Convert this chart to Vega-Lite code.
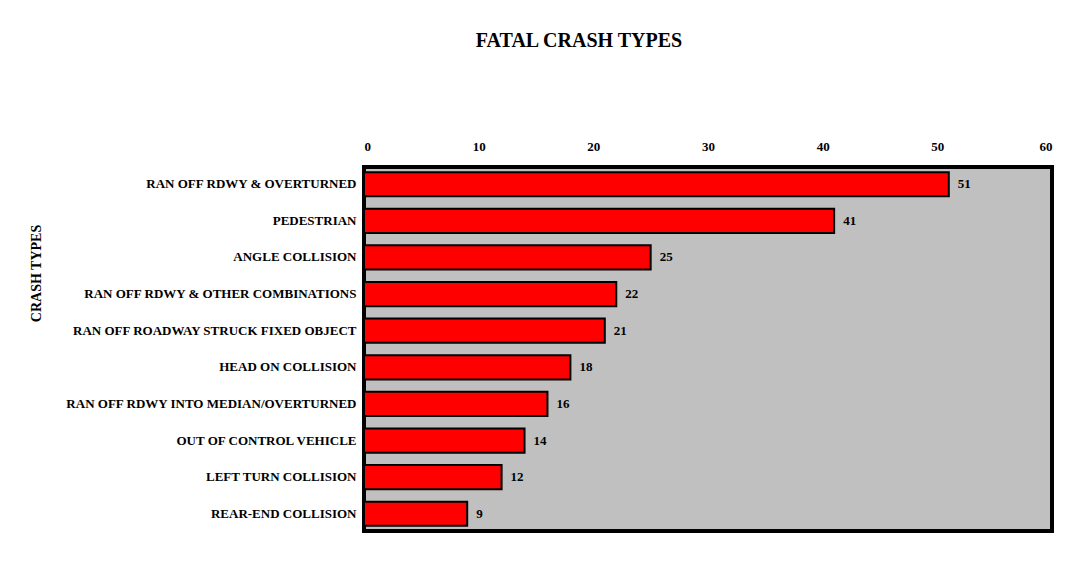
{
  "$schema": "https://vega.github.io/schema/vega-lite/v6.json",
  "autosize": {"type": "none"},
  "width": 688,
  "height": 364,
  "padding": {"left": 364, "top": 167, "right": 36, "bottom": 30},
  "background": "white",
  "title": {
    "text": "FATAL CRASH TYPES",
    "font": "Liberation Serif",
    "fontSize": 20,
    "fontWeight": "bold",
    "color": "black",
    "anchor": "middle",
    "frame": "group",
    "dx": -129,
    "dy": -85
  },
  "data": {
    "values": [
      {"type": "RAN OFF RDWY & OVERTURNED", "count": 51},
      {"type": "PEDESTRIAN", "count": 41},
      {"type": "ANGLE COLLISION", "count": 25},
      {"type": "RAN OFF RDWY & OTHER COMBINATIONS", "count": 22},
      {"type": "RAN OFF ROADWAY STRUCK FIXED OBJECT", "count": 21},
      {"type": "HEAD ON COLLISION", "count": 18},
      {"type": "RAN OFF RDWY INTO MEDIAN/OVERTURNED", "count": 16},
      {"type": "OUT OF CONTROL VEHICLE", "count": 14},
      {"type": "LEFT TURN COLLISION", "count": 12},
      {"type": "REAR-END COLLISION", "count": 9}
    ]
  },
  "encoding": {
    "y": {
      "field": "type",
      "type": "nominal",
      "sort": null,
      "scale": {"paddingInner": 0.34, "paddingOuter": 0.14},
      "axis": {
        "title": "CRASH TYPES",
        "titleFont": "Liberation Serif",
        "titleFontSize": 14,
        "titleFontWeight": "bold",
        "titleColor": "black",
        "titleX": -328,
        "titleY": 106,
        "titleAngle": -90,
        "titleAlign": "center",
        "titleBaseline": "middle",
        "labelFont": "Liberation Serif",
        "labelFontSize": 13,
        "labelFontWeight": "bold",
        "labelColor": "black",
        "labelPadding": 8,
        "labelLimit": 400,
        "ticks": false,
        "domain": false,
        "grid": false
      }
    },
    "x": {
      "field": "count",
      "type": "quantitative",
      "scale": {"domain": [0, 60], "nice": false},
      "axis": {
        "orient": "top",
        "title": null,
        "values": [0, 10, 20, 30, 40, 50, 60],
        "labelFont": "Liberation Serif",
        "labelFontSize": 13,
        "labelFontWeight": "bold",
        "labelColor": "black",
        "labelPadding": 14,
        "ticks": false,
        "domain": false,
        "grid": false
      }
    }
  },
  "layer": [
    {
      "mark": {"type": "bar", "color": "#ff0000", "stroke": "black", "strokeWidth": 2}
    },
    {
      "mark": {
        "type": "text",
        "align": "left",
        "baseline": "middle",
        "dx": 9,
        "font": "Liberation Serif",
        "fontSize": 13,
        "fontWeight": "bold",
        "color": "black"
      },
      "encoding": {"text": {"field": "count", "type": "quantitative"}}
    }
  ],
  "config": {
    "view": {"fill": "#c0c0c0", "stroke": "black", "strokeWidth": 4}
  }
}
